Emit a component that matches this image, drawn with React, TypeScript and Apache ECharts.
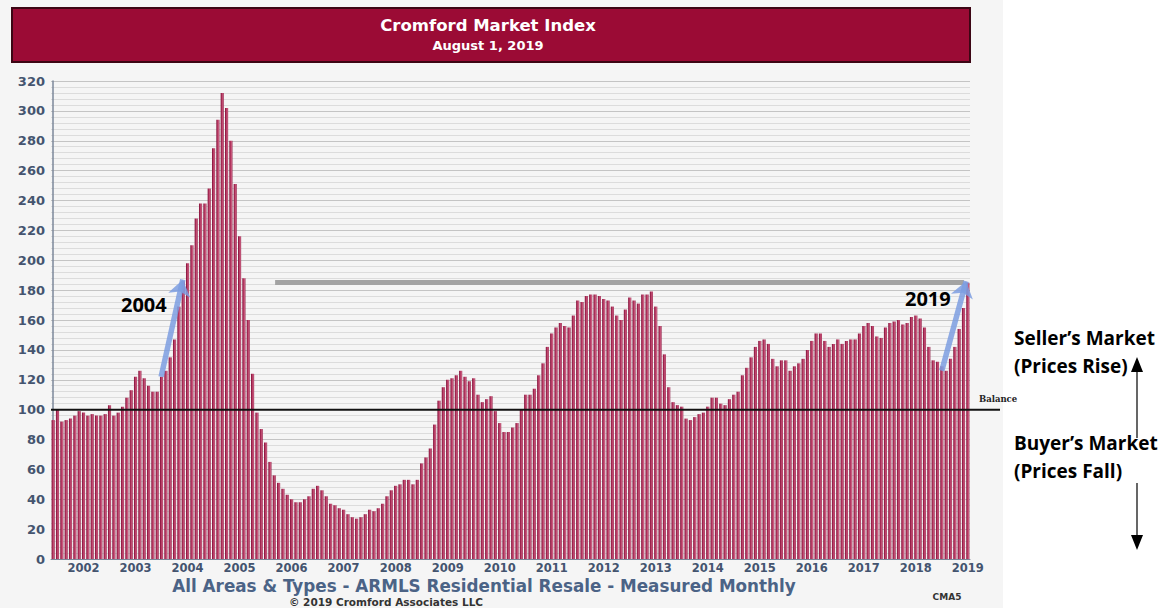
import React, { useEffect, useRef } from 'react';
import * as echarts from 'echarts';

// Cromford Market Index, monthly, Jan 2002 – Aug 2019
const v2002 = [93, 100, 92, 93, 94, 96, 99, 98, 96, 97, 96, 96];
const v2003 = [97, 103, 96, 98, 102, 108, 113, 122, 126, 121, 116, 112];
const v2004 = [112, 122, 126, 135, 147, 169, 186, 198, 210, 228, 238, 238];
const v2005 = [248, 275, 294, 312, 302, 280, 251, 216, 188, 160, 124, 98];
const v2006 = [87, 78, 65, 56, 51, 47, 43, 40, 38, 38, 40, 42];
const v2007 = [47, 49, 46, 42, 37, 36, 34, 33, 30, 28, 27, 28];
const v2008 = [30, 33, 32, 34, 37, 42, 46, 49, 50, 53, 53, 50];
const v2009 = [53, 64, 68, 74, 90, 106, 115, 120, 121, 123, 126, 122];
const v2010 = [119, 121, 110, 105, 107, 109, 99, 91, 85, 85, 88, 91];
const v2011 = [100, 110, 110, 114, 123, 131, 142, 151, 155, 158, 156, 155];
const v2012 = [163, 173, 172, 176, 177, 177, 176, 174, 173, 169, 163, 160];
const v2013 = [167, 175, 173, 171, 177, 177, 179, 169, 156, 137, 115, 105];
const v2014 = [103, 102, 94, 93, 95, 97, 98, 102, 108, 108, 104, 103];
const v2015 = [107, 110, 112, 123, 128, 135, 142, 146, 147, 144, 134, 129];
const v2016 = [133, 133, 126, 129, 131, 134, 140, 146, 151, 151, 146, 142];
const v2017 = [144, 147, 144, 146, 147, 147, 151, 156, 158, 156, 149, 148];
const v2018 = [155, 158, 159, 160, 157, 158, 162, 163, 161, 155, 142, 133];
const v2019 = [132, 129, 126, 134, 142, 154, 168, 185];

const START_YEAR = 2002;
const LABEL_MONTH = 7; // year labels sit under August
const BALANCE = 100;
const CURRENT_LEVEL = 185;
// annotation arrows: [monthIndex, value] tail -> tip
const ARROW_2004 = [[24.9, 122], [29.9, 187]];
const ARROW_2019 = [[205, 126], [210.6, 186]];
const LEVEL_LINE = [[51.2, CURRENT_LEVEL], [210.1, CURRENT_LEVEL]];

const Y_MIN = 0;
const Y_MAX = 320;
const Y_STEP = 20;

export default function App() {
  const ref = useRef<HTMLDivElement>(null);

  useEffect(() => {
    const chart = echarts.init(ref.current!, null, { renderer: 'svg' });
    const values = [
      ...v2002, ...v2003, ...v2004, ...v2005, ...v2006, ...v2007, ...v2008, ...v2009, ...v2010,
      ...v2011, ...v2012, ...v2013, ...v2014, ...v2015, ...v2016, ...v2017, ...v2018, ...v2019,
    ];
    const categories = values.map((_, i) => {
      const y = START_YEAR + Math.floor(i / 12);
      const m = (i % 12) + 1;
      return `${y}-${String(m).padStart(2, '0')}`;
    });
    const n = values.length;
    const axisText = '#44546f';

    const barColor = new echarts.graphic.LinearGradient(0, 0, 1, 0, [
      { offset: 0, color: '#7c0a33' },
      { offset: 0.4, color: '#b43660' },
      { offset: 0.75, color: '#c95e80' },
      { offset: 1, color: '#8f1a43' },
    ]);

    const arrowLine = (pts: number[][]) => [
      {
        coord: pts[0],
        symbol: 'none',
        lineStyle: { color: '#7d9de0', width: 5.5, type: 'solid', opacity: 0.85 },
      },
      { coord: pts[1], symbol: 'arrow', symbolSize: [17, 16] },
    ];

    chart.setOption({
      animation: false,
      backgroundColor: 'transparent',
      grid: { left: 51, right: 197, top: 81, bottom: 49, containLabel: false },
      xAxis: [
        {
          type: 'category',
          data: categories,
          boundaryGap: true,
          axisLine: { show: true, lineStyle: { color: '#7b879a', width: 1 } },
          axisTick: { show: false },
          axisLabel: {
            interval: (index: number) => index % 12 === LABEL_MONTH,
            formatter: (v: string) => v.slice(0, 4),
            color: axisText,
            fontFamily: 'DejaVu Sans',
            fontWeight: 'bold',
            fontSize: 11.5,
            margin: 3,
          },
          splitLine: { show: false },
        },
        { type: 'value', min: -0.5, max: n - 0.5, show: false },
      ],
      yAxis: {
        type: 'value',
        min: Y_MIN,
        max: Y_MAX,
        interval: Y_STEP,
        axisLine: { show: true, lineStyle: { color: '#7b879a', width: 1.5 } },
        axisTick: { show: false },
        axisLabel: {
          color: axisText,
          fontFamily: 'DejaVu Sans',
          fontWeight: 'bold',
          fontSize: 13,
          margin: 6,
        },
        splitLine: { show: true, lineStyle: { color: '#c4c4c4', width: 1 } },
        minorTick: { show: false, splitNumber: 5 },
        minorSplitLine: { show: true, lineStyle: { color: '#dcdcdc', width: 1 } },
      },
      series: [
        {
          type: 'bar',
          data: values,
          barCategoryGap: '28%',
          itemStyle: { color: barColor },
          z: 2,
        },
        {
          type: 'scatter',
          xAxisIndex: 1,
          yAxisIndex: 0,
          data: [],
          silent: true,
          z: 5,
          markLine: {
            silent: true,
            animation: false,
            label: { show: false },
            symbol: ['none', 'none'],
            data: [
              [
                { coord: LEVEL_LINE[0], symbol: 'none', lineStyle: { color: '#a3a3a3', width: 5, type: 'solid' } },
                { coord: LEVEL_LINE[1], symbol: 'none' },
              ],
              arrowLine(ARROW_2004),
              arrowLine(ARROW_2019),
            ],
          },
        },
      ],
    });

    const yBal = chart.convertToPixel({ yAxisIndex: 0 }, BALANCE) as number;
    const xLeft = chart.convertToPixel({ xAxisIndex: 1 }, -0.5) as number;

    const annot = (text: string, x: number, y: number, size = 19) => ({
      type: 'text',
      x,
      y,
      style: {
        text,
        fill: '#000',
        font: `bold ${size}px "Open Sans"`,
        textVerticalAlign: 'middle',
      },
      z: 20,
    });

    chart.setOption({
      graphic: [
        { type: 'rect', shape: { x: 0, y: 0, width: 1003, height: 608 }, style: { fill: '#f5f5f5' }, z: -10, silent: true },
        {
          type: 'rect',
          shape: { x: 12, y: 8, width: 958, height: 54 },
          style: { fill: '#9b0b35', stroke: '#3c0614', lineWidth: 2 },
          z: 10,
        },
        {
          type: 'text',
          x: 488,
          y: 25,
          style: { text: 'Cromford Market Index', fill: '#ffffff', font: 'bold 16.5px "DejaVu Sans"', textAlign: 'center', textVerticalAlign: 'middle' },
          z: 11,
        },
        {
          type: 'text',
          x: 488,
          y: 45,
          style: { text: 'August 1, 2019', fill: '#ffffff', font: 'bold 13px "DejaVu Sans"', textAlign: 'center', textVerticalAlign: 'middle' },
          z: 11,
        },
        {
          type: 'line',
          shape: { x1: xLeft, y1: yBal, x2: 1000, y2: yBal },
          style: { stroke: '#111', lineWidth: 2 },
          z: 15,
        },
        {
          type: 'text',
          x: 979,
          y: yBal - 11,
          style: { text: 'Balance', fill: '#222', font: 'bold 8.5px "DejaVu Serif"', textVerticalAlign: 'middle' },
          z: 15,
        },
        annot('2004', 121, 304, 20),
        annot('2019', 905, 298, 20),
        annot('Seller\u2019s Market', 1014, 338),
        annot('(Prices Rise)', 1014, 366),
        annot('Buyer\u2019s Market', 1014, 443),
        annot('(Prices Fall)', 1014, 471),
        { type: 'line', shape: { x1: 1137, y1: 370, x2: 1137, y2: 438 }, style: { stroke: '#000', lineWidth: 1.2 }, z: 20 },
        { type: 'polygon', shape: { points: [[1137, 357], [1131, 372], [1143, 372]] }, style: { fill: '#000' }, z: 21 },
        { type: 'line', shape: { x1: 1137, y1: 483, x2: 1137, y2: 538 }, style: { stroke: '#000', lineWidth: 1.2 }, z: 20 },
        { type: 'polygon', shape: { points: [[1137, 550], [1131, 535], [1143, 535]] }, style: { fill: '#000' }, z: 20 },
        {
          type: 'text',
          x: 484,
          y: 586,
          style: {
            text: 'All Areas & Types - ARMLS Residential Resale - Measured Monthly',
            fill: '#4b6386',
            font: 'bold 16.8px "DejaVu Sans"',
            textAlign: 'center',
            textVerticalAlign: 'middle',
          },
          z: 20,
        },
        {
          type: 'text',
          x: 386,
          y: 602,
          style: { text: '\u00a9 2019 Cromford Associates LLC', fill: '#333', font: 'bold 10.5px "DejaVu Sans"', textAlign: 'center', textVerticalAlign: 'middle' },
          z: 20,
        },
        {
          type: 'text',
          x: 947,
          y: 597,
          style: { text: 'CMA5', fill: '#333', font: 'bold 9px "DejaVu Sans"', textAlign: 'center', textVerticalAlign: 'middle' },
          z: 20,
        },
      ],
    });

    return () => chart.dispose();
  }, []);

  return (
    <div
      ref={ref}
      style={{ position: 'absolute', left: 0, top: 0, width: 1167, height: 608, background: '#ffffff' }}
    />
  );
}
